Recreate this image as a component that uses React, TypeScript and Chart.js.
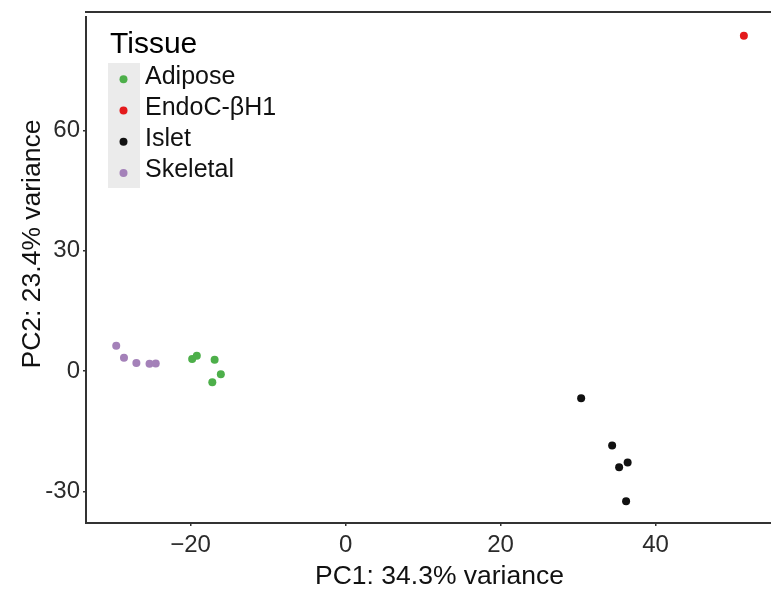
import React, { useEffect, useRef } from "react";
import { Chart, registerables } from "chart.js";

Chart.register(...registerables);

const xTicks = [-20, 0, 20, 40];
const yTicks = [-30, 0, 30, 60];

const groups = ["Adipose", "EndoC-βH1", "Islet", "Skeletal"];
const groupColors = ["#4daf4a", "#e41a1c", "#111111", "#a481b9"];

const adiposeX = [-19.8, -19.2, -16.9, -16.1, -17.2];
const adiposeY = [3.0, 3.8, 2.8, -0.8, -2.8];
const endocX = [51.4];
const endocY = [83.6];
const isletX = [30.4, 34.4, 35.3, 36.4, 36.2];
const isletY = [-6.8, -18.6, -24.0, -22.8, -32.5];
const skeletalX = [-29.6, -28.6, -27.0, -25.3, -24.5];
const skeletalY = [6.3, 3.3, 2.0, 1.8, 1.85];

const seriesX = [adiposeX, endocX, isletX, skeletalX];
const seriesY = [adiposeY, endocY, isletY, skeletalY];

const xTitle = "PC1: 34.3% variance";
const yTitle = "PC2: 23.4% variance";
const legendTitle = "Tissue";

const FONT = "'Liberation Sans', Arial, Helvetica, sans-serif";

const decorPlugin = {
  id: "decor",
  afterDraw(chart: any) {
    const ctx = chart.ctx;
    const ca = chart.chartArea;
    ctx.save();
    // top frame line
    ctx.fillStyle = "#333333";
    ctx.fillRect(ca.left - 1, 11, chart.width - ca.left + 1, 2);
    // legend
    ctx.fillStyle = "#ebebeb";
    ctx.fillRect(108, 63, 32, 125);
    ctx.fillStyle = "#000000";
    ctx.font = `30px ${FONT}`;
    ctx.textAlign = "left";
    ctx.textBaseline = "alphabetic";
    ctx.fillText(legendTitle, 110, 53);
    groups.forEach((g, i) => {
      const cy = 79.3 + i * 31.2;
      ctx.beginPath();
      ctx.arc(123.5, cy, 4, 0, Math.PI * 2);
      ctx.fillStyle = groupColors[i];
      ctx.fill();
      ctx.fillStyle = "#111111";
      ctx.font = `25px ${FONT}`;
      ctx.fillText(g, 145, 83.5 + i * 31.2);
    });
    // axis titles
    ctx.fillStyle = "#111111";
    ctx.font = `25px ${FONT}`;
    ctx.textAlign = "center";
    ctx.textBaseline = "alphabetic";
    ctx.save();
    ctx.translate(439.5, 584);
    ctx.scale(1.06, 1);
    ctx.fillText(xTitle, 0, 0);
    ctx.restore();
    ctx.save();
    ctx.translate(40, 244);
    ctx.rotate(-Math.PI / 2);
    ctx.scale(1.06, 1);
    ctx.fillText(yTitle, 0, 0);
    ctx.restore();
    ctx.restore();
  },
};

export default function App() {
  const ref = useRef<HTMLCanvasElement | null>(null);
  useEffect(() => {
    document.body.style.margin = "0";
    const datasets = groups.map((g, i) => ({
      label: g,
      data: seriesX[i].map((x, j) => ({ x, y: seriesY[i][j] })),
      backgroundColor: groupColors[i],
      borderColor: groupColors[i],
      pointRadius: 4,
      pointBorderWidth: 0,
    }));
    const chart = new Chart(ref.current as HTMLCanvasElement, {
      type: "scatter",
      data: { datasets },
      options: {
        animation: false,
        responsive: false,
        devicePixelRatio: 1,
        layout: { autoPadding: false, padding: { top: 13, right: 0, left: 0, bottom: 0 } },
        plugins: { legend: { display: false }, tooltip: { enabled: false } },
        scales: {
          x: {
            type: "linear",
            min: -33.5,
            max: 54.9,
            afterFit: (s: any) => {
              s.height = 66;
            },
            afterBuildTicks: (s: any) => {
              s.ticks = xTicks.map((v) => ({ value: v }));
            },
            grid: {
              display: true,
              drawOnChartArea: false,
              drawTicks: true,
              tickLength: 3,
              color: "#333333",
              lineWidth: 1.5,
            },
            border: { display: true, color: "#333333", width: 2 },
            ticks: {
              padding: 5,
              color: "#2b2b2b",
              font: { family: FONT, size: 24 },
              maxRotation: 0,
              callback: (v: any) => (Number(v) < 0 ? "\u2212" + Math.abs(Number(v)) : String(v)),
            },
          },
          y: {
            type: "linear",
            min: -37.9,
            max: 88.2,
            afterFit: (s: any) => {
              s.width = 86;
            },
            afterBuildTicks: (s: any) => {
              s.ticks = yTicks.map((v) => ({ value: v }));
            },
            grid: {
              display: true,
              drawOnChartArea: false,
              drawTicks: true,
              tickLength: 3,
              color: "#333333",
              lineWidth: 1.5,
            },
            border: { display: true, color: "#333333", width: 2 },
            ticks: {
              padding: 3,
              color: "#2b2b2b",
              font: { family: FONT, size: 24 },
              callback: (v: any) => String(v),
            },
          },
        },
      },
      plugins: [decorPlugin],
    });
    return () => chart.destroy();
  }, []);
  return (
    <div style={{ width: 771, height: 589, background: "#ffffff" }}>
      <canvas ref={ref} width={771} height={589} style={{ width: 771, height: 589, display: "block" }} />
    </div>
  );
}
